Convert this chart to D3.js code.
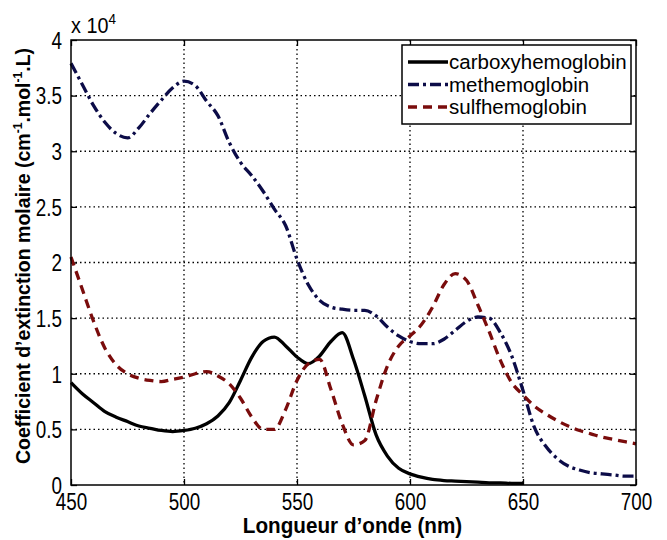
<!DOCTYPE html>
<html>
<head>
<meta charset="utf-8">
<script src="https://cdn.jsdelivr.net/npm/d3@7"></script>
<style>
  body { margin: 0; background: #fff; }
  text { font-family: "Liberation Sans", Arial, sans-serif; }
</style>
</head>
<body>
<div id="chart"></div>
<script>
// wavelengths (nm)
var wavelengths = [450,455,460,465,470,475,480,485,490,495,500,505,510,515,520,525,530,535,540,545,
  550,555,560,565,570,575,580,585,590,595,600,605,610,615,620,625,630,635,640,645,
  650,655,660,665,670,675,680,685,690,695,700];

// values in units of 10^4
var carboxy = [0.92,0.82,0.74,0.66,0.61,0.57,0.53,0.51,0.49,0.48,0.49,0.51,0.55,0.62,0.74,0.94,1.15,1.29,1.33,1.25,
  1.15,1.09,1.16,1.29,1.37,1.13,0.80,0.45,0.26,0.15,0.10,0.07,0.05,0.04,0.035,0.03,0.025,0.02,0.02,0.015,
  0.015];
var methemo = [3.79,3.60,3.41,3.26,3.16,3.12,3.21,3.34,3.46,3.57,3.63,3.59,3.45,3.32,3.08,2.90,2.78,2.64,2.48,2.33,
  2.03,1.80,1.66,1.60,1.58,1.57,1.57,1.52,1.42,1.34,1.29,1.27,1.27,1.31,1.39,1.47,1.51,1.50,1.37,1.16,
  0.85,0.52,0.35,0.24,0.17,0.135,0.11,0.10,0.09,0.08,0.08];
var sulfhemo = [2.05,1.76,1.47,1.23,1.08,1.00,0.96,0.94,0.93,0.95,0.97,1.00,1.02,0.98,0.91,0.78,0.61,0.50,0.50,0.68,
  0.94,1.09,1.13,0.86,0.55,0.36,0.40,0.76,1.07,1.25,1.34,1.44,1.60,1.80,1.90,1.84,1.62,1.38,1.12,0.92,
  0.81,0.71,0.64,0.58,0.53,0.49,0.46,0.43,0.41,0.39,0.37];

var seriesNames = ["carboxyhemoglobin", "methemoglobin", "sulfhemoglobin"];
var xTicks = [450, 500, 550, 600, 650, 700];
var yTicks = [0, 0.5, 1, 1.5, 2, 2.5, 3, 3.5, 4];

var W = 667, H = 540;
var margin = {top: 40, right: 31, bottom: 55, left: 71},
    width = W - margin.left - margin.right,
    height = H - margin.top - margin.bottom;

// the picture's text is a bit condensed, so squeeze it horizontally
var tickSquash = 0.82;

var svg = d3.select("#chart").append("svg")
    .attr("width", W).attr("height", H);
var g = svg.append("g")
    .attr("transform", "translate(" + margin.left + "," + margin.top + ")");

var x = d3.scaleLinear().domain([450, 700]).range([0, width]);
var y = d3.scaleLinear().domain([0, 4]).range([height, 0]);

// dotted grid
g.append("g").selectAll("line").data(xTicks.slice(1, -1)).enter().append("line")
    .attr("x1", d => x(d)).attr("x2", d => x(d)).attr("y1", 0).attr("y2", height)
    .attr("stroke", "#000").attr("stroke-width", 1.3).attr("stroke-dasharray", "1.5,3");
g.append("g").selectAll("line").data(yTicks.slice(1, -1)).enter().append("line")
    .attr("y1", d => y(d)).attr("y2", d => y(d)).attr("x1", 0).attr("x2", width)
    .attr("stroke", "#000").attr("stroke-width", 1.3).attr("stroke-dasharray", "1.5,3");

// axes (ticks inside, like matlab)
var fmt = d => String(d);
g.append("g").attr("transform", "translate(0," + height + ")")
    .call(d3.axisBottom(x).tickValues(xTicks).tickSizeInner(-6).tickSizeOuter(0).tickPadding(9).tickFormat(fmt));
g.append("g").call(d3.axisTop(x).tickValues(xTicks).tickSizeInner(-6).tickSizeOuter(0).tickFormat(""));
var yAxis = g.append("g")
    .call(d3.axisLeft(y).tickValues(yTicks).tickSizeInner(-6).tickSizeOuter(0).tickPadding(9).tickFormat(fmt));
g.append("g").attr("transform", "translate(" + width + ",0)")
    .call(d3.axisRight(y).tickValues(yTicks).tickSizeInner(-6).tickSizeOuter(0).tickFormat(""));
g.selectAll(".domain").remove();
g.selectAll(".tick line").attr("stroke", "#000").attr("stroke-width", 1.3);
g.selectAll(".tick text")
    .attr("font-size", 23).attr("fill", "#000").attr("font-family", null)
    .each(function() {
      var t = d3.select(this);
      t.attr("x", (+t.attr("x") || 0) / tickSquash)
       .attr("transform", "scale(" + tickSquash + ",1)");
    });
yAxis.selectAll(".tick text").attr("dy", "0.36em");

// the lines
var line = d3.line()
    .x((d, i) => x(wavelengths[i]))
    .y(d => y(d))
    .curve(d3.curveMonotoneX);

var styles = [
  {data: carboxy, color: "#000000", dash: null},
  {data: methemo, color: "#0c0c48", dash: "11,4,3,4"},
  {data: sulfhemo, color: "#7a0c0c", dash: "9,6"}
];

styles.forEach(function(s) {
  g.append("path")
      .datum(s.data)
      .attr("fill", "none")
      .attr("stroke", s.color)
      .attr("stroke-width", 3.3)
      .attr("stroke-dasharray", s.dash)
      .attr("d", line);
});

// box
g.append("rect").attr("width", width).attr("height", height)
    .attr("fill", "none").attr("stroke", "#000").attr("stroke-width", 1.5);

// exponent label
var ex = svg.append("text").attr("transform", "translate(71,33) scale(0.9,1)").attr("font-size", 22);
ex.append("tspan").text("x 10");
ex.append("tspan").attr("font-size", 15).attr("dy", -9).text("4");

// axis titles
svg.append("text")
    .attr("transform", "translate(" + (margin.left + width / 2 - 1) + ",533) scale(0.94,1)")
    .attr("text-anchor", "middle").attr("font-size", 22).attr("font-weight", "bold")
    .text("Longueur d\u2019onde (nm)");

var yl = svg.append("text")
    .attr("transform", "translate(30,256) rotate(-90) scale(0.93,1)")
    .attr("text-anchor", "middle").attr("font-size", 21).attr("font-weight", "bold");
yl.append("tspan").text("Coefficient d\u2019extinction molaire (cm");
yl.append("tspan").attr("font-size", 13).attr("dy", -8).text("-1");
yl.append("tspan").attr("dy", 8).text(".mol");
yl.append("tspan").attr("font-size", 13).attr("dy", -8).text("-1");
yl.append("tspan").attr("dy", 8).text(".L)");

// legend
var lg = svg.append("g").attr("transform", "translate(402,45)");
lg.append("rect").attr("width", 229).attr("height", 79)
    .attr("fill", "#fff").attr("stroke", "#000").attr("stroke-width", 1.5);
seriesNames.forEach(function(name, i) {
  var yy = 17 + i * 22.5;
  lg.append("line").attr("x1", 6).attr("x2", 46).attr("y1", yy).attr("y2", yy)
      .attr("stroke", styles[i].color).attr("stroke-width", 3.3)
      .attr("stroke-dasharray", styles[i].dash);
  lg.append("text").attr("x", 47).attr("y", yy).attr("dy", "0.36em")
      .attr("font-size", 20.5).text(name);
});
</script>
</body>
</html>
